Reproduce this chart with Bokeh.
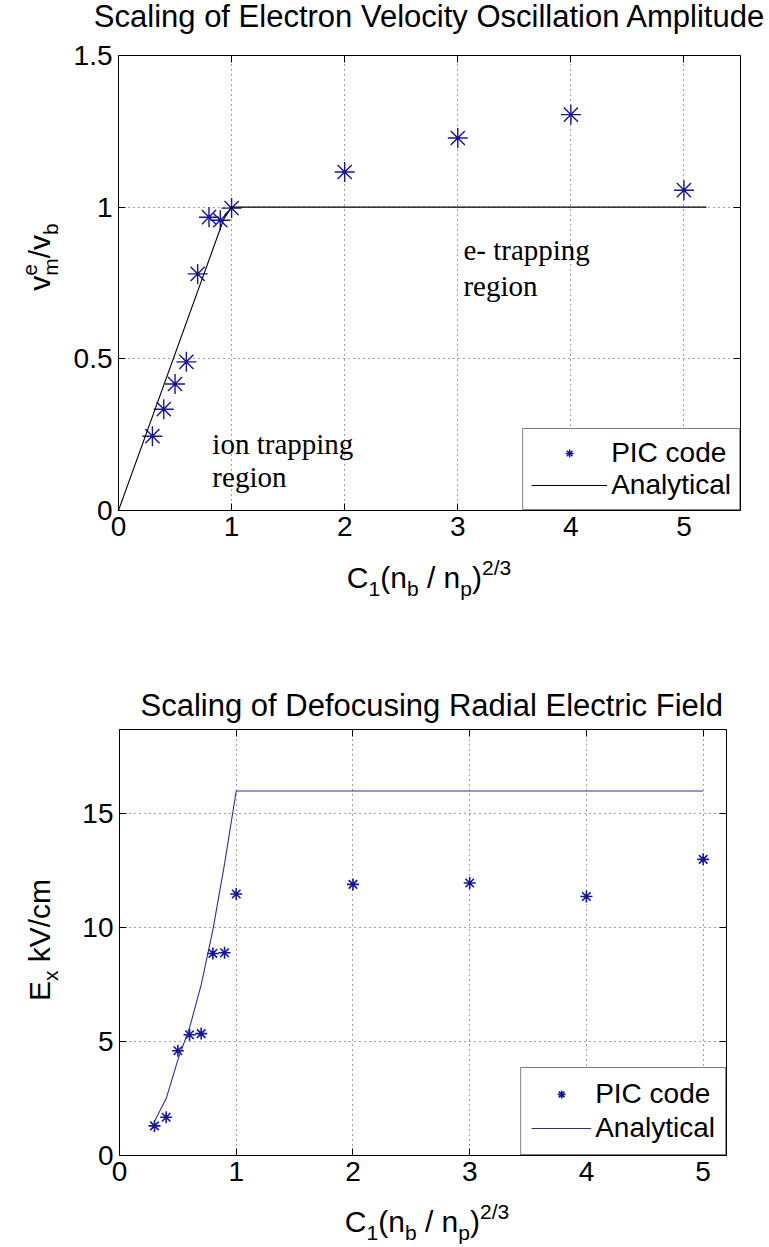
from bokeh.plotting import figure
from bokeh.models import Range1d, FixedTicker, Label, Div, LinearAxis
from bokeh.layouts import column, row
from bokeh.embed import file_html
from bokeh.resources import INLINE

# ---------------- data ----------------
top_pic_x = [0.3, 0.4, 0.5, 0.6, 0.7, 0.8, 0.9, 1.0, 2, 3, 4, 5]
top_pic_y = [0.245, 0.334, 0.417, 0.49, 0.78, 0.967, 0.957, 0.997, 1.116, 1.228, 1.305, 1.056]
top_ana_x = [0, 0.93, 1.0, 5.2]
top_ana_y = [0, 0.96, 1.0, 1.0]

bot_pic_x = [0.3, 0.4, 0.5, 0.6, 0.7, 0.8, 0.9, 1.0, 2, 3, 4, 5]
bot_pic_y = [1.3, 1.68, 4.6, 5.3, 5.35, 8.87, 8.9, 11.48, 11.9, 11.96, 11.37, 13.0]
bot_ana_x = [0.3, 0.4, 0.5, 0.6, 0.7, 0.8, 0.9, 1.0, 5.0]
bot_ana_y = [1.5, 2.5, 4.2, 5.6, 7.5, 9.9, 12.8, 16.0, 16.0]

top_xticks = [0, 1, 2, 3, 4, 5]
top_yticks = [0, 0.5, 1, 1.5]
bot_xticks = [0, 1, 2, 3, 4, 5]
bot_yticks = [0, 5, 10, 15]

top_title = "Scaling of Electron Velocity Oscillation Amplitude"
bot_title = "Scaling of Defocusing Radial Electric Field"
legend_labels = ["PIC code", "Analytical"]
top_notes = [("ion trapping", 0.83, 0.22), ("region", 0.83, 0.11),
             ("e- trapping", 3.05, 0.86), ("region", 3.05, 0.74)]

SANS = "Liberation Sans"
SERIF = "Liberation Serif"
STAR = "#14149c"
W = 769
YL_W = 60
TITLE_H = 36


def sub(t):
    return f'<span style="font-size:21px;position:relative;top:8px;">{t}</span>'


def sup(t, extra=""):
    return f'<span style="font-size:21px;position:relative;top:-13px;{extra}">{t}</span>'


XLABEL_HTML = "C" + sub("1") + "(n" + sub("b") + " / n" + sub("p") + ")" + sup("2/3")
YLABEL1_HTML = ("v" + sup("e") +
                '<span style="font-size:21px;position:relative;top:8px;margin-left:-11.7px;">m</span>'
                + "/v" + sub("b"))
YLABEL2_HTML = "E" + sub("x") + " kV/cm"


def font_css(size):
    return (f"font-family:'{SANS}';font-size:{size}px;line-height:{size}px;color:black;"
            "white-space:nowrap;")


def hdiv(inner, cx, baseline, h, size=30):
    top = baseline - (size * 0.905 + (size - size * 1.117) / 2)
    html = (f'<div style="position:relative;width:{W}px;height:{h}px;">'
            f'<div style="position:absolute;left:{cx - 380}px;top:{top:.1f}px;width:760px;'
            f'height:{size}px;text-align:center;{font_css(size)}">{inner}</div></div>')
    return Div(text=html, width=W, height=h, margin=0, styles={"overflow": "visible"})


def ylabel_div(inner, cx, cy, h):
    html = (f'<div style="position:relative;width:{YL_W}px;height:{h}px;">'
            f'<div style="position:absolute;left:{cx - 150}px;top:{cy - 15}px;width:300px;'
            f'height:30px;text-align:center;transform:rotate(-90deg);{font_css(30)}">{inner}</div></div>')
    return Div(text=html, width=YL_W, height=h, margin=0, styles={"overflow": "visible"})


def tick_axis(ticks):
    return LinearAxis(ticker=FixedTicker(ticks=ticks), major_label_text_font_size="0px",
                      major_label_text_color=None, major_tick_in=7, major_tick_out=0,
                      axis_line_color=None, minor_tick_line_color=None,
                      major_label_standoff=0, major_tick_line_color="black")


def style(p, xticks, yticks):
    p.outline_line_color = "black"
    p.outline_line_width = 1
    p.background_fill_color = "white"
    p.border_fill_color = "white"
    p.xaxis.ticker = FixedTicker(ticks=xticks)
    p.yaxis.ticker = FixedTicker(ticks=yticks)
    p.xaxis.major_label_overrides = {t: f"{t:g}" for t in xticks}
    p.yaxis.major_label_overrides = {t: f"{t:g}" for t in yticks}
    for ax in (p.xaxis, p.yaxis):
        ax.major_tick_in = 7
        ax.major_tick_out = 0
        ax.minor_tick_line_color = None
        ax.axis_line_color = "black"
        ax.major_tick_line_color = "black"
        ax.major_label_text_font = SANS
        ax.major_label_text_font_size = "28px"
        ax.major_label_text_color = "black"
        ax.major_label_standoff = 6
    for g in (p.xgrid, p.ygrid):
        g.grid_line_color = "black"
        g.grid_line_dash = "1 4"
        g.grid_line_alpha = 0.75
    p.add_layout(tick_axis(xticks), "above")
    p.add_layout(tick_axis(yticks), "right")


def legend_style(p, glyph_w, pad, spacing):
    lg = p.legend[0]
    lg.location = "bottom_right"
    lg.margin = 0
    lg.padding = pad
    lg.spacing = spacing
    lg.border_line_color = "black"
    lg.border_line_width = 1
    lg.background_fill_color = "white"
    lg.background_fill_alpha = 1
    lg.label_text_font = SANS
    lg.label_text_font_size = "28px"
    lg.label_text_color = "black"
    lg.glyph_width = glyph_w
    lg.label_standoff = 4


# ---------------- top chart ----------------
p1 = figure(frame_width=622, frame_height=455, min_border_left=118 - YL_W, min_border_right=29,
            min_border_top=55 - TITLE_H, min_border_bottom=45, x_range=Range1d(0, 5.5),
            y_range=Range1d(0, 1.5), output_backend="svg", toolbar_location=None)
style(p1, top_xticks, top_yticks)
p1.scatter(top_pic_x, top_pic_y, marker="asterisk", size=20, line_color=STAR,
           line_width=1.4, legend_label=legend_labels[0])
p1.line(top_ana_x, top_ana_y, line_color="black", line_width=1.1, legend_label=legend_labels[1])
legend_style(p1, 76, 8, 0)
for txt, xx, yy in top_notes:
    p1.add_layout(Label(x=xx, y=yy, text=txt, text_font=SERIF, text_font_size="29px",
                        text_align="left", text_baseline="alphabetic", text_color="black"))

# ---------------- bottom chart ----------------
p2 = figure(frame_width=607, frame_height=426, min_border_left=119 - YL_W, min_border_right=43,
            min_border_top=109, min_border_bottom=45, x_range=Range1d(0, 5.2),
            y_range=Range1d(0, 18.7), output_backend="svg", toolbar_location=None)
style(p2, bot_xticks, bot_yticks)
p2.title.text = bot_title
p2.title.align = "left"
p2.title.offset = 21
p2.title.text_font = SANS
p2.title.text_font_size = "31px"
p2.title.text_font_style = "normal"
p2.title.text_color = "black"
p2.title.standoff = 13
p2.scatter(bot_pic_x, bot_pic_y, marker="asterisk", size=12, line_color=STAR,
           line_width=1.6, legend_label=legend_labels[0])
p2.line(bot_ana_x, bot_ana_y, line_color="#2c2ca4", line_width=1.1, legend_label=legend_labels[1])
legend_style(p2, 60, 10, 2)

# ---------------- titles and axis labels (rich text) ----------------
t1 = hdiv(top_title, 429, 27, TITLE_H, size=31)
yl1 = ylabel_div(YLABEL1_HTML, 40, 257 - TITLE_H, 555 - TITLE_H)
xl1 = hdiv(XLABEL_HTML, 429, 33, 65)
yl2 = ylabel_div(YLABEL2_HTML, 40, 320, 580)
xl2 = hdiv(XLABEL_HTML, 427, 32, 47)

layout = column(t1, row(yl1, p1, spacing=0), xl1, row(yl2, p2, spacing=0), xl2, spacing=0)
open("out.html", "w").write(file_html(layout, INLINE))
